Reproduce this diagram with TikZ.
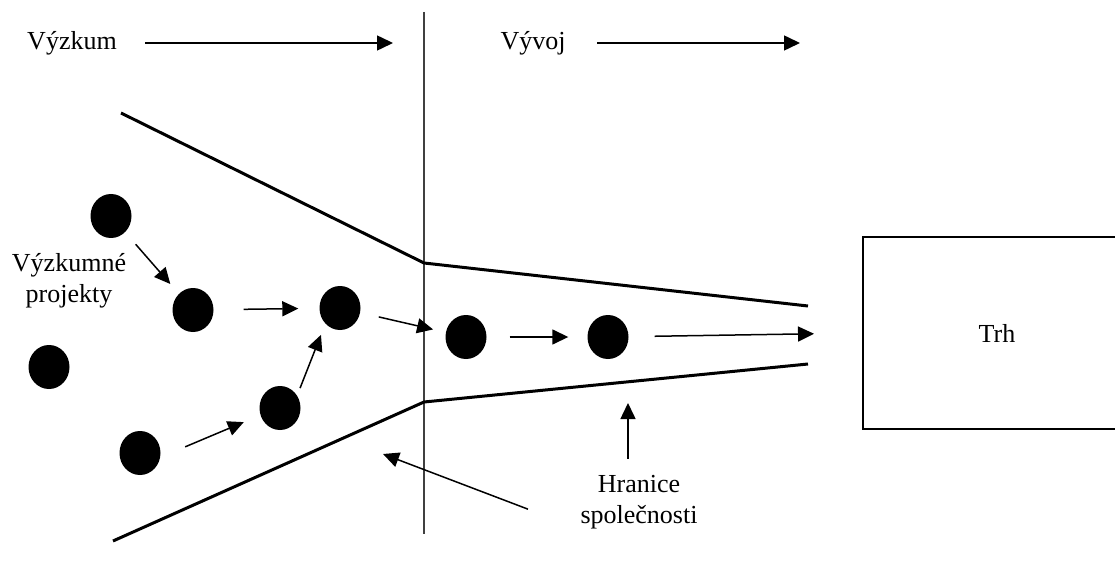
\documentclass[tikz,border=0pt]{standalone}
\usepackage{fontspec}
\setmainfont{Liberation Serif}
\usetikzlibrary{arrows.meta,shapes.geometric}

\tikzset{
  project/.style={ellipse, fill=black, minimum width=41pt, minimum height=44pt, inner sep=0pt},
  flow/.style={-{Triangle[length=16pt,width=15pt]}, line width=1.5pt},
  funnel/.style={line width=3pt},
}

\begin{document}
\begin{tikzpicture}[x=1pt, y=-1pt, font=\fontsize{26}{31}\selectfont]

\useasboundingbox (0,0) rectangle (1115,561);

% Phase divider
\draw[black!75, line width=1.3pt] (424,12) -- (424,534);

% Phase headings
\path 
(72,43) node (vyzkum) {Výzkum};
\coordinate (vyzkumEnd) at (393,43);
\draw[flow] (vyzkum.east) -- (vyzkumEnd) [shorten <=25pt];

\path 
(533,43) node (vyvoj) {Vývoj};
\coordinate (vyvojEnd) at (800,43);
\draw[flow] (vyvoj.east) -- (vyvojEnd) [shorten <=28pt];


% Company boundary
\draw[funnel] (121,113) -- (424,263) -- (808,306);
\draw[funnel] (113,541) -- (424,402) -- (808,364);


% Market
\path 
(997,333) node (trh) [draw, line width=2pt, minimum width=268pt, minimum height=192pt] {Trh};


% Research projects
\path 
(111,216) node [project] (p1) {}
(193,310) node [project] (p2) {}
(340,308) node [project] (p3) {}
(49,367)  node [project] (p4) {}
(280,408) node [project] (p5) {}
(140,453) node [project] (p6) {}
(466,337) node [project] (p7) {}
(608,337) node [project] (p8) {};

\path 
(69,281) node [align=center] (projekty) {Výzkumné\\projekty};

% Arrows between projects
\draw[flow, shorten <=16pt, shorten >=13pt] (p1) -- (p2);
\draw[flow, shorten <=30pt, shorten >=21pt] (p2) -- (p3);
\draw[flow, shorten <=27pt, shorten >=18pt] (p6.-12) -- (p5.200);
\draw[flow, shorten <=8pt, shorten >=12pt] (p5.36) -- (p3.227);
\draw[flow, shorten <=19pt, shorten >=13pt] (p3) -- (p7);
\draw[flow, shorten <=23pt, shorten >=19pt] (p7) -- (p8);
\draw[flow, shorten <=26pt, shorten >=48pt] (p8) -- (trh.west);


% Boundary label
\path 
(639,502) node [align=center, inner sep=0pt] (hranice) {Hranice\\společnosti};
\coordinate (hraniceUp) at (628,403);
\coordinate (hraniceLeft) at (383,454);
\draw[flow, shorten <=16pt] (hranice.north -| hraniceUp) -- (hraniceUp);
\draw[flow, shorten <=56pt] (hranice.south west) -- (hraniceLeft);


\end{tikzpicture}
\end{document}
